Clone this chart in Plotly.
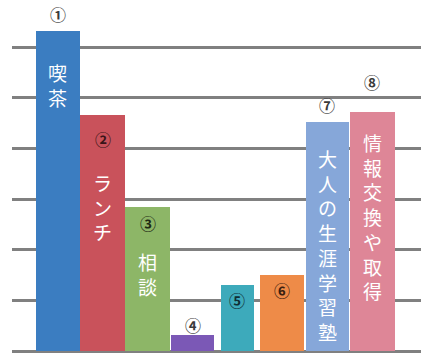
import plotly.graph_objects as go

categories = ["喫茶", "ランチ", "相談", "④", "⑤", "⑥", "大人の生涯学習塾", "情報交換や取得"]
numbers = ["①", "②", "③", "④", "⑤", "⑥", "⑦", "⑧"]
values = [6.32, 4.65, 2.85, 0.32, 1.31, 1.50, 4.53, 4.71]
bar_labels = ["喫茶", "ランチ", "相談", "", "", "", "大人の生涯学習塾", "情報交換や取得"]

colors = ["#3b7dc1", "#c9525b", "#8db667", "#7b58b6", "#3daabb", "#ee8b48", "#86a7d9", "#de8697"]
num_colors = ["#3a3a3a", "#3a1418", "#1f2a14", "#3a3a3a", "#0f2f36", "#3a2010", "#3a3a3a", "#3a3a3a"]
widths = [0.98, 1.0, 1.0, 0.97, 0.74, 0.98, 0.96, 1.0]
# pixel offsets of circled numbers relative to the bar top (+ above, - inside)
num_shift = [17, -24, -16, 10, -15, -15, 17, 30]
# pixel offsets of the vertical labels below the bar top
lab_shift = [26, 52, 39, 0, 0, 0, 21, 15]

x = list(range(len(values)))

fig = go.Figure()
fig.add_trace(go.Bar(
    x=x, y=values, width=widths,
    marker=dict(color=colors, line=dict(width=0)),
    hoverinfo="skip",
))

for i, v in enumerate(values):
    fig.add_annotation(
        x=i, y=v, text=numbers[i], showarrow=False,
        yanchor="middle", yshift=num_shift[i],
        font=dict(family="Noto Sans CJK JP", size=16, color=num_colors[i], weight="bold"),
    )
    if bar_labels[i]:
        fig.add_annotation(
            x=i, y=v, text="<br>".join(list(bar_labels[i])), showarrow=False,
            yanchor="top", yshift=-lab_shift[i],
            font=dict(family="Noto Sans CJK JP", size=19, color="#ffffff"),
        )

fig.update_layout(
    width=421, height=356,
    margin=dict(l=12, r=0, t=0, b=5),
    paper_bgcolor="white", plot_bgcolor="white",
    showlegend=False,
    bargap=0,
    xaxis=dict(range=[-1.023, 8.088], showticklabels=False, showgrid=False,
               zeroline=False, ticks=""),
    yaxis=dict(range=[0, 6.93], dtick=1, tick0=0, showticklabels=False,
               showgrid=True, gridcolor="#808080", gridwidth=2.5,
               zeroline=True, zerolinecolor="#808080", zerolinewidth=2.5, ticks=""),
)

fig.write_html("out.html")
